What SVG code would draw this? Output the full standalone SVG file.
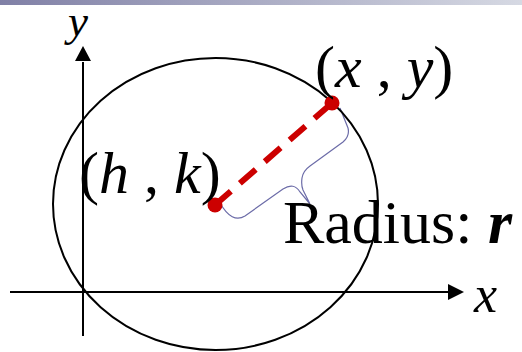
<svg xmlns="http://www.w3.org/2000/svg" width="522" height="352" viewBox="0 0 522 352">
  <defs>
    <linearGradient id="bar" x1="0" y1="0" x2="1" y2="0">
      <stop offset="0" stop-color="#8080a6"/>
      <stop offset="1" stop-color="#d6d9e3"/>
    </linearGradient>
    <style>
      .lbl { font-family: "Liberation Serif", "Times New Roman", serif; fill: #000; }
      .it { font-style: italic; }
      .axis { stroke: #000; stroke-width: 2; fill: none; }
      .dot { fill: #cc0000; }
    </style>
  </defs>
  <rect x="0" y="0" width="522" height="5" fill="url(#bar)"/>

  <g id="connectors">
    <line class="axis" x1="83" y1="336" x2="83" y2="62"/>
    <polygon points="83,46 75,61 91,61" fill="#000"/>
    <line class="axis" x1="10" y1="292" x2="449" y2="292"/>
    <polygon points="464,292 448,284 448,300" fill="#000"/>
    <line x1="215" y1="205" x2="332" y2="103" stroke="#cc0000" stroke-width="6" stroke-dasharray="21 12"/>
    <path d="M220,203 Q232,224 245,216 L283,189 Q294,182 300,192 L310,204 L303,190 Q301,185 302,178 Q303,171 310,166 L343,142 Q350,136 348,128 L340,108" fill="none" stroke="#6c6ca8" stroke-width="1.2"/>
  </g>

  <g id="circle">
    <ellipse cx="215.5" cy="204" rx="162.5" ry="146" fill="none" stroke="#000" stroke-width="2"/>
  </g>

  <g id="center">
    <circle class="dot" cx="215" cy="205" r="7.5"/>
    <text class="lbl" x="79" y="193" font-size="60">(<tspan class="it">h</tspan> , <tspan class="it">k</tspan>)</text>
  </g>

  <g id="point">
    <circle class="dot" cx="332" cy="103" r="7.5"/>
    <text class="lbl" x="315" y="87" font-size="60">(<tspan class="it">x</tspan> , <tspan class="it">y</tspan>)</text>
  </g>

  <g id="radius">
    <text class="lbl" x="283" y="243" font-size="62">Radius: <tspan font-weight="bold" font-style="italic">r</tspan></text>
  </g>

  <g id="y-label">
    <text class="lbl it" x="68" y="36" font-size="45">y</text>
  </g>
  <g id="x-label">
    <text class="lbl it" x="474" y="312" font-size="52">x</text>
  </g>
</svg>
